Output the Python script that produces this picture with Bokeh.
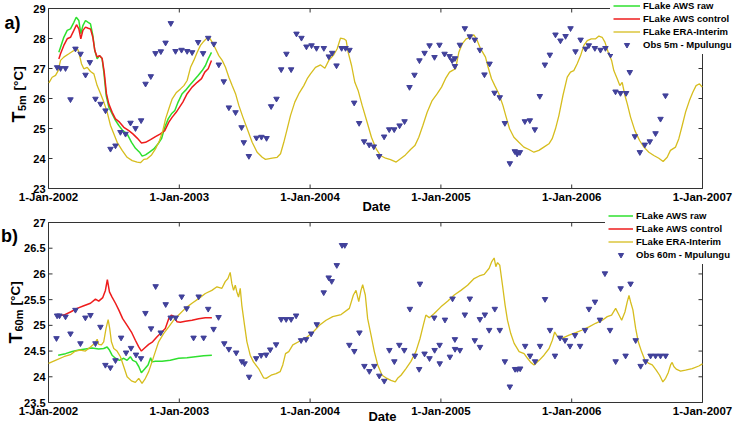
import numpy as np
from bokeh.plotting import figure
from bokeh.models import Label, Legend, LegendItem, Range1d
from bokeh.core.properties import value
from bokeh.embed import file_html
from bokeh.resources import INLINE

# ---------------------------------------------------------------- axes data
YEARS = [2002, 2003, 2004, 2005, 2006, 2007]
YEAR_LABELS = ["1-Jan-2002", "1-Jan-2003", "1-Jan-2004",
               "1-Jan-2005", "1-Jan-2006", "1-Jan-2007"]
T5_TICKS = [23, 24, 25, 26, 27, 28, 29]
T5_LABELS = ["23", "24", "25", "26", "27", "28", "29"]
T60_TICKS = [23.5, 24, 24.5, 25, 25.5, 26, 26.5, 27]
T60_LABELS = ["23.5", "24", "24.5", "25", "25.5", "26", "26.5", "27"]

SERIES_NAMES = ["FLake AWS raw", "FLake AWS control", "FLake ERA-Interim"]
OBS5_NAME = "Obs 5m - Mpulungu"
OBS60_NAME = "Obs 60m - Mpulungu"

# ------------------------------------------------- 5 m temperature (decimal year, degC)
raw5_t = [2002.079, 2002.092, 2002.117, 2002.143, 2002.168, 2002.194, 2002.212, 2002.232,
          2002.247, 2002.263, 2002.283, 2002.303, 2002.321, 2002.339, 2002.354, 2002.372,
          2002.390, 2002.410, 2002.423, 2002.441, 2002.461, 2002.487, 2002.512, 2002.538,
          2002.568, 2002.601, 2002.635, 2002.665, 2002.696, 2002.716, 2002.742, 2002.772,
          2002.805, 2002.838, 2002.864, 2002.889, 2002.915, 2002.940, 2002.966, 2002.991,
          2003.022, 2003.047, 2003.078, 2003.111, 2003.144, 2003.175, 2003.200, 2003.221,
          2003.246]
raw5_v = [27.54, 27.71, 28.04, 28.27, 28.32, 28.54, 28.71, 28.60,
          28.16, 28.43, 28.60, 28.54, 28.49, 28.10, 27.60, 27.32,
          27.43, 27.32, 26.88, 26.10, 25.71, 25.49, 25.27, 25.10,
          24.93, 24.82, 24.54, 24.34, 24.21, 24.08, 24.12, 24.21,
          24.32, 24.49, 24.66, 25.04, 25.32, 25.49, 25.60, 25.88,
          26.16, 26.27, 26.43, 26.60, 26.77, 26.93, 27.10, 27.32,
          27.54]

ctl5_t = [2002.079, 2002.092, 2002.117, 2002.143, 2002.168, 2002.194, 2002.214, 2002.232,
          2002.247, 2002.263, 2002.283, 2002.303, 2002.321, 2002.339, 2002.354, 2002.372,
          2002.390, 2002.410, 2002.426, 2002.443, 2002.461, 2002.487, 2002.512, 2002.543,
          2002.576, 2002.614, 2002.645, 2002.678, 2002.711, 2002.742, 2002.780, 2002.818,
          2002.856, 2002.889, 2002.920, 2002.946, 2002.976, 2003.002, 2003.027, 2003.060,
          2003.098, 2003.137, 2003.170, 2003.195, 2003.221, 2003.246]
ctl5_v = [27.32, 27.49, 27.77, 27.99, 28.04, 28.27, 28.46, 28.32,
          27.99, 28.27, 28.38, 28.34, 28.32, 28.04, 27.60, 27.38,
          27.43, 27.34, 26.88, 26.16, 25.82, 25.54, 25.32, 25.21,
          25.04, 24.93, 24.82, 24.68, 24.52, 24.54, 24.63, 24.73,
          24.82, 24.93, 25.21, 25.38, 25.54, 25.71, 25.88, 26.16,
          26.38, 26.54, 26.66, 26.88, 26.99, 27.27]

era5_t = [2002.003, 2002.028, 2002.054, 2002.074, 2002.092, 2002.117, 2002.156, 2002.194,
          2002.219, 2002.232, 2002.252, 2002.270, 2002.296, 2002.321, 2002.347, 2002.372,
          2002.398, 2002.423, 2002.449, 2002.474, 2002.500, 2002.525, 2002.563, 2002.601,
          2002.640, 2002.678, 2002.703, 2002.729, 2002.754, 2002.788, 2002.818, 2002.849,
          2002.874, 2002.895, 2002.920, 2002.946, 2002.976, 2003.009, 2003.035, 2003.060,
          2003.086, 2003.111, 2003.137, 2003.162, 2003.188, 2003.213, 2003.231, 2003.251,
          2003.277, 2003.302, 2003.328, 2003.353, 2003.379, 2003.404, 2003.430, 2003.455,
          2003.486, 2003.519, 2003.557, 2003.595, 2003.634, 2003.659, 2003.710, 2003.748,
          2003.774, 2003.799, 2003.825, 2003.850, 2003.883, 2003.914, 2003.952, 2003.978,
          2004.003, 2004.041, 2004.080, 2004.113, 2004.143, 2004.181, 2004.207, 2004.232,
          2004.258, 2004.276, 2004.291, 2004.317, 2004.342, 2004.367, 2004.398, 2004.436,
          2004.469, 2004.505, 2004.538, 2004.577, 2004.615, 2004.658, 2004.691, 2004.729,
          2004.768, 2004.801, 2004.831, 2004.862, 2004.895, 2004.933, 2004.972, 2005.005,
          2005.035, 2005.066, 2005.086, 2005.112, 2005.137, 2005.163, 2005.193, 2005.226,
          2005.252, 2005.272, 2005.303, 2005.341, 2005.361, 2005.387, 2005.412, 2005.443,
          2005.474, 2005.499, 2005.525, 2005.558, 2005.596, 2005.634, 2005.673, 2005.711,
          2005.749, 2005.787, 2005.826, 2005.851, 2005.876, 2005.902, 2005.933, 2005.966,
          2005.991, 2006.016, 2006.042, 2006.068, 2006.093, 2006.119, 2006.150, 2006.183,
          2006.208, 2006.233, 2006.254, 2006.279, 2006.305, 2006.322, 2006.348, 2006.368,
          2006.386, 2006.407, 2006.425, 2006.450, 2006.483, 2006.519, 2006.552, 2006.590,
          2006.628, 2006.666, 2006.699, 2006.730, 2006.755, 2006.794, 2006.819, 2006.845,
          2006.870, 2006.900, 2006.926, 2006.951, 2006.977, 2006.998]
era5_v = [26.52, 26.71, 26.77, 26.93, 27.27, 27.38, 27.49, 27.60,
          27.68, 27.54, 27.16, 26.99, 27.04, 26.90, 26.82, 26.43,
          26.16, 25.88, 25.54, 25.10, 24.82, 24.54, 24.27, 24.04,
          23.93, 23.88, 23.86, 23.97, 23.99, 24.12, 24.32, 24.60,
          24.93, 25.32, 25.66, 25.99, 26.19, 26.32, 26.43, 26.60,
          27.04, 27.27, 27.54, 27.77, 27.91, 28.02, 28.02, 27.88,
          27.66, 27.43, 27.27, 27.04, 26.71, 26.43, 26.16, 25.77,
          25.38, 24.99, 24.54, 24.21, 24.04, 23.97, 24.01, 24.04,
          24.16, 24.54, 24.99, 25.43, 25.88, 26.16, 26.43, 26.66,
          26.82, 27.04, 27.12, 27.01, 27.27, 27.46, 27.66, 28.01,
          27.99, 27.93, 27.54, 27.10, 26.54, 26.27, 25.77, 25.21,
          24.71, 24.32, 24.10, 24.01, 23.96, 23.88, 23.99, 24.12,
          24.30, 24.43, 24.71, 25.10, 25.54, 25.93, 26.16, 26.38,
          26.66, 26.88, 26.93, 26.99, 27.54, 27.82, 27.99, 28.04,
          28.12, 27.99, 27.66, 27.38, 27.04, 26.66, 26.43, 26.16,
          25.77, 25.38, 24.99, 24.71, 24.54, 24.38, 24.30, 24.21,
          24.27, 24.38, 24.49, 24.66, 24.99, 25.43, 26.10, 26.71,
          26.88, 26.93, 27.16, 27.43, 27.77, 27.93, 27.99, 27.99,
          28.08, 28.04, 27.88, 27.54, 27.27, 26.93, 26.66, 26.43,
          26.54, 26.10, 25.82, 25.38, 24.93, 24.60, 24.38, 24.21,
          24.10, 24.01, 23.90, 24.04, 24.27, 24.38, 24.66, 25.10,
          25.54, 25.93, 26.21, 26.43, 26.49, 26.38]

obs5_t = [2002.066, 2002.092, 2002.130, 2002.168, 2002.206, 2002.245, 2002.283, 2002.316,
          2002.359, 2002.398, 2002.436, 2002.474, 2002.512, 2002.550, 2002.589, 2002.627,
          2002.665, 2002.708, 2002.742, 2002.782, 2002.818, 2002.859, 2002.895, 2002.935,
          2002.971, 2003.017, 2003.060, 2003.098, 2003.144, 2003.182, 2003.221, 2003.264,
          2003.302, 2003.340, 2003.379, 2003.430, 2003.476, 2003.493, 2003.532, 2003.590,
          2003.628, 2003.667, 2003.702, 2003.743, 2003.779, 2003.819, 2003.855, 2003.896,
          2003.934, 2003.972, 2004.011, 2004.049, 2004.105, 2004.143, 2004.169, 2004.202,
          2004.241, 2004.271, 2004.301, 2004.337, 2004.375, 2004.413, 2004.452, 2004.487,
          2004.528, 2004.566, 2004.605, 2004.643, 2004.684, 2004.722, 2004.760, 2004.798,
          2004.836, 2004.875, 2004.913, 2004.951, 2004.989, 2005.028, 2005.066, 2005.086,
          2005.107, 2005.107, 2005.145, 2005.183, 2005.221, 2005.259, 2005.298, 2005.333,
          2005.372, 2005.410, 2005.450, 2005.489, 2005.527, 2005.565, 2005.583, 2005.604,
          2005.642, 2005.680, 2005.718, 2005.756, 2005.795, 2005.833, 2005.876, 2005.914,
          2005.953, 2005.991, 2006.029, 2006.068, 2006.106, 2006.131, 2006.177, 2006.220,
          2006.258, 2006.297, 2006.335, 2006.373, 2006.416, 2006.444, 2006.483, 2006.521,
          2006.559, 2006.597, 2006.641, 2006.679, 2006.717]
obs5_v = [27.04, 27.01, 27.01, 25.97, 27.66, 27.49, 26.79, 27.21,
          25.99, 25.82, 25.60, 24.32, 24.43, 24.88, 24.82, 25.19,
          25.01, 25.27, 26.49, 26.74, 27.51, 27.57, 27.86, 28.51,
          27.58, 27.62, 27.58, 27.54, 27.88, 27.51, 28.02, 27.82,
          27.13, 26.57, 25.70, 25.54, 25.04, 24.54, 24.08, 24.69,
          24.72, 24.68, 25.74, 25.99, 26.97, 27.49, 26.97, 28.16,
          28.02, 27.73, 27.77, 27.68, 27.68, 27.40, 27.52, 27.10,
          27.68, 27.68, 27.62, 25.86, 25.18, 24.57, 24.46, 24.40,
          24.08, 24.73, 24.97, 24.97, 25.10, 25.24, 26.38, 26.79,
          27.27, 27.52, 27.77, 27.38, 27.79, 27.49, 27.41, 27.27,
          27.34, 27.08, 27.79, 28.34, 28.07, 27.96, 27.62, 26.80,
          27.16, 26.19, 26.04, 25.18, 23.84, 24.24, 24.16, 24.21,
          25.24, 25.27, 24.97, 26.08, 27.13, 27.46, 28.13, 27.93,
          28.08, 28.34, 27.57, 27.96, 27.66, 27.77, 27.68, 27.62,
          27.68, 27.46, 26.23, 26.18, 26.18, 26.88, 24.74, 24.21,
          24.46, 24.57, 24.84, 25.32, 26.10]

# ------------------------------------------------ 60 m temperature (decimal year, degC)
raw60_t = [2002.074, 2002.130, 2002.181, 2002.232, 2002.282, 2002.333, 2002.384, 2002.422,
           2002.448, 2002.466, 2002.486, 2002.512, 2002.542, 2002.575, 2002.601, 2002.626,
           2002.644, 2002.669, 2002.690, 2002.710, 2002.735, 2002.761, 2002.781, 2002.791,
           2002.817, 2002.868, 2002.931, 2002.995, 2003.059, 2003.122, 2003.186, 2003.249]
raw60_v = [24.42, 24.45, 24.49, 24.52, 24.54, 24.56, 24.54, 24.55,
           24.58, 24.52, 24.42, 24.36, 24.32, 24.36, 24.32, 24.39,
           24.32, 24.29, 24.20, 24.08, 24.15, 24.23, 24.37, 24.29,
           24.30, 24.30, 24.32, 24.36, 24.37, 24.39, 24.41, 24.42]

ctl60_t = [2002.066, 2002.117, 2002.168, 2002.219, 2002.270, 2002.321, 2002.359, 2002.384,
           2002.415, 2002.435, 2002.450, 2002.466, 2002.486, 2002.512, 2002.537, 2002.567,
           2002.601, 2002.634, 2002.664, 2002.690, 2002.710, 2002.735, 2002.766, 2002.796,
           2002.830, 2002.863, 2002.893, 2002.919, 2002.939, 2002.964, 2002.982, 2003.008,
           2003.046, 2003.097, 2003.148, 2003.199, 2003.249]
ctl60_v = [25.19, 25.20, 25.26, 25.33, 25.38, 25.43, 25.51, 25.47,
           25.54, 25.68, 25.89, 25.65, 25.55, 25.43, 25.30, 25.13,
           25.00, 24.87, 24.71, 24.58, 24.50, 24.56, 24.63, 24.68,
           24.78, 24.86, 24.94, 25.13, 25.20, 25.17, 25.07, 25.06,
           25.08, 25.10, 25.13, 25.15, 25.15]

era60_t = [2002.000, 2002.053, 2002.117, 2002.168, 2002.206, 2002.244, 2002.282, 2002.321,
           2002.354, 2002.372, 2002.384, 2002.405, 2002.422, 2002.440, 2002.456, 2002.468,
           2002.481, 2002.499, 2002.524, 2002.550, 2002.575, 2002.601, 2002.634, 2002.664,
           2002.690, 2002.715, 2002.741, 2002.766, 2002.791, 2002.817, 2002.842, 2002.880,
           2002.919, 2002.957, 2002.995, 2003.046, 2003.097, 2003.148, 2003.199, 2003.249,
           2003.288, 2003.326, 2003.351, 2003.372, 2003.389, 2003.402, 2003.415, 2003.428,
           2003.440, 2003.453, 2003.466, 2003.478, 2003.499, 2003.517, 2003.542, 2003.567,
           2003.606, 2003.644, 2003.664, 2003.702, 2003.740, 2003.771, 2003.791, 2003.812,
           2003.837, 2003.868, 2003.919, 2003.969, 2004.020, 2004.071, 2004.122, 2004.173,
           2004.237, 2004.300, 2004.331, 2004.351, 2004.372, 2004.389, 2004.402, 2004.422,
           2004.440, 2004.466, 2004.491, 2004.517, 2004.550, 2004.580, 2004.618, 2004.651,
           2004.669, 2004.695, 2004.733, 2004.771, 2004.809, 2004.840, 2004.865, 2004.885,
           2004.911, 2004.949, 2005.000, 2005.051, 2005.102, 2005.153, 2005.204, 2005.254,
           2005.293, 2005.331, 2005.369, 2005.389, 2005.407, 2005.420, 2005.433, 2005.450,
           2005.471, 2005.491, 2005.509, 2005.534, 2005.560, 2005.598, 2005.636, 2005.662,
           2005.687, 2005.712, 2005.751, 2005.788, 2005.827, 2005.852, 2005.870, 2005.891,
           2005.929, 2005.980, 2006.031, 2006.081, 2006.132, 2006.183, 2006.234, 2006.272,
           2006.305, 2006.336, 2006.356, 2006.382, 2006.407, 2006.425, 2006.438, 2006.450,
           2006.468, 2006.489, 2006.509, 2006.534, 2006.560, 2006.590, 2006.616, 2006.646,
           2006.672, 2006.697, 2006.718, 2006.738, 2006.756, 2006.768, 2006.781, 2006.799,
           2006.832, 2006.870, 2006.921, 2006.972, 2007.000]
era60_v = [24.26, 24.32, 24.39, 24.43, 24.50, 24.52, 24.50, 24.58,
           24.65, 24.73, 24.63, 24.62, 24.68, 24.94, 25.11, 24.94,
           24.68, 24.55, 24.50, 24.39, 24.20, 24.00, 23.92, 23.89,
           23.97, 23.87, 23.97, 24.10, 24.29, 24.49, 24.68, 24.84,
           24.97, 25.10, 25.20, 25.33, 25.43, 25.52, 25.62, 25.68,
           25.75, 25.72, 25.85, 25.91, 26.03, 25.81, 25.68, 25.78,
           25.65, 25.55, 25.72, 25.39, 25.00, 24.68, 24.42, 24.29,
           24.16, 23.98, 23.97, 24.03, 24.06, 24.10, 24.23, 24.45,
           24.49, 24.62, 24.69, 24.76, 24.86, 25.00, 25.10, 25.17,
           25.21, 25.33, 25.59, 25.68, 25.46, 25.68, 25.79, 25.59,
           25.13, 24.81, 24.49, 24.23, 24.03, 23.98, 23.93, 23.90,
           23.97, 24.03, 24.16, 24.30, 24.49, 24.74, 25.00, 25.20,
           25.15, 25.23, 25.36, 25.47, 25.59, 25.68, 25.78, 25.91,
           25.96, 25.99, 26.11, 26.24, 26.31, 26.14, 26.22, 26.17,
           25.78, 25.39, 25.10, 24.84, 24.65, 24.49, 24.45, 24.36,
           24.28, 24.23, 24.32, 24.42, 24.55, 24.71, 24.87, 24.78,
           24.75, 24.81, 24.86, 24.91, 24.97, 25.04, 25.10, 25.17,
           25.20, 25.33, 25.23, 25.10, 25.26, 25.46, 25.58, 25.46,
           25.30, 24.94, 24.68, 24.49, 24.32, 24.26, 24.23, 24.13,
           24.03, 23.90, 23.97, 24.08, 24.23, 24.28, 24.20, 24.15,
           24.11, 24.13, 24.16, 24.21, 24.25]

obs60_t = [2002.061, 2002.066, 2002.084, 2002.130, 2002.168, 2002.206, 2002.244, 2002.282,
           2002.321, 2002.359, 2002.397, 2002.435, 2002.473, 2002.512, 2002.555, 2002.593,
           2002.631, 2002.669, 2002.707, 2002.741, 2002.784, 2002.819, 2002.858, 2002.896,
           2002.934, 2002.972, 2003.018, 2003.056, 2003.109, 2003.148, 2003.186, 2003.221,
           2003.262, 2003.300, 2003.344, 2003.379, 2003.435, 2003.478, 2003.499, 2003.534,
           2003.588, 2003.626, 2003.664, 2003.695, 2003.740, 2003.779, 2003.817, 2003.855,
           2003.893, 2003.931, 2003.969, 2004.008, 2004.051, 2004.104, 2004.142, 2004.165,
           2004.204, 2004.244, 2004.265, 2004.300, 2004.338, 2004.377, 2004.415, 2004.453,
           2004.491, 2004.529, 2004.567, 2004.606, 2004.644, 2004.682, 2004.720, 2004.763,
           2004.801, 2004.834, 2004.840, 2004.875, 2004.913, 2004.949, 2004.952, 2004.990,
           2004.991, 2005.031, 2005.069, 2005.089, 2005.107, 2005.108, 2005.145, 2005.183,
           2005.221, 2005.259, 2005.298, 2005.299, 2005.336, 2005.369, 2005.412, 2005.450,
           2005.489, 2005.527, 2005.567, 2005.585, 2005.606, 2005.644, 2005.682, 2005.720,
           2005.758, 2005.796, 2005.834, 2005.872, 2005.911, 2005.949, 2005.987, 2006.025,
           2006.064, 2006.102, 2006.132, 2006.178, 2006.216, 2006.254, 2006.293, 2006.336,
           2006.374, 2006.412, 2006.450, 2006.489, 2006.527, 2006.565, 2006.603, 2006.641,
           2006.679, 2006.718]
obs60_v = [24.75, 25.19, 25.19, 25.17, 24.84, 25.30, 24.65, 25.15,
           25.20, 24.65, 24.97, 24.23, 24.18, 24.32, 24.76, 24.47,
           24.56, 24.43, 24.36, 25.24, 24.94, 25.76, 24.86, 25.41,
           25.15, 25.15, 25.56, 25.33, 24.76, 25.56, 24.76, 25.32,
           24.93, 25.16, 24.65, 24.54, 24.47, 24.30, 24.26, 24.00,
           24.36, 24.42, 24.43, 24.53, 24.63, 25.12, 25.12, 25.12,
           25.19, 24.71, 24.73, 24.84, 25.02, 25.64, 25.93, 25.86,
           26.17, 26.56, 26.56, 24.62, 24.50, 24.86, 24.21, 24.11,
           24.21, 24.02, 23.92, 24.52, 24.30, 24.62, 24.52, 25.32,
           24.41, 24.15, 25.81, 24.45, 24.36, 25.15, 24.52, 24.62,
           24.26, 25.11, 24.39, 25.52, 24.73, 24.54, 24.52, 25.21,
           25.52, 24.71, 25.12, 24.58, 25.21, 24.91, 25.32, 24.91,
           24.30, 23.81, 24.15, 24.15, 24.16, 24.60, 24.41, 24.30,
           24.60, 25.51, 24.91, 24.41, 24.76, 24.71, 24.60, 24.81,
           24.60, 24.91, 25.32, 25.46, 25.11, 26.01, 24.91, 24.30,
           25.72, 24.41, 25.81, 24.71, 24.21, 24.30, 24.41, 24.41,
           24.41, 24.41]

# ---------------------------------------------------------------- page geometry
W, H = 733, 424
X_LEFT, X_RIGHT = 48, 702          # pixel columns of the first and last year
PANEL_A = (8, 188)                 # pixel rows of the top and bottom of panel a)
PANEL_B = (222, 402)               # pixel rows of the top and bottom of panel b)

FONT = "Liberation Sans"
GREEN = "#2fe02f"
RED = "#ee1c1c"
GOLD = "#d6bd1e"
NAVY = "#41419a"
FRAME = "#333333"


def span_range(p0, p1, v0, v1, total):
    """Range whose values v0, v1 land on pixels p0, p1 of a canvas of `total` px."""
    k = (v1 - v0) / (p1 - p0)
    return Range1d(v0 - p0 * k, v1 + (total - p1) * k)


x_range = span_range(X_LEFT, X_RIGHT, YEARS[0], YEARS[-1], W)
# vertical pixels counted from the bottom of the canvas
ya = span_range(H - PANEL_A[1], H - PANEL_A[0], T5_TICKS[0], T5_TICKS[-1], H)
yb = span_range(H - PANEL_B[1], H - PANEL_B[0], T60_TICKS[0], T60_TICKS[-1], H)

p = figure(width=W, height=H, output_backend="svg", toolbar_location=None,
           x_range=x_range, y_range=ya, x_axis_location=None, y_axis_location=None,
           min_border_left=0, min_border_right=0, min_border_top=0, min_border_bottom=0)
p.extra_y_ranges = {"b": yb}
p.grid.visible = False
p.outline_line_color = None
p.background_fill_color = "white"
p.border_fill_color = "white"


def glyph_text_kw(size):
    return dict(text_font=value(FONT), text_font_style="bold", text_font_size=size,
                text_color="black")


def draw_frame(ticks, labels, rng):
    lo, hi = ticks[0], ticks[-1]
    x0, x1 = YEARS[0], YEARS[-1]
    p.quad(left=x0, right=x1, bottom=lo, top=hi, fill_alpha=0,
           line_color=FRAME, line_width=1, y_range_name=rng)
    n, m = len(YEARS), len(ticks)
    tick = dict(length=4, length_units="screen", line_color=FRAME, line_width=1,
                y_range_name=rng)
    p.ray(x=YEARS, y=[lo] * n, angle=np.pi / 2, **tick)
    p.ray(x=YEARS, y=[hi] * n, angle=-np.pi / 2, **tick)
    p.ray(x=[x0] * m, y=ticks, angle=0, **tick)
    p.ray(x=[x1] * m, y=ticks, angle=np.pi, **tick)
    p.text(x=YEARS, y=[lo] * n, text=YEAR_LABELS, y_offset=2, text_align="center",
           text_baseline="top", y_range_name=rng, **glyph_text_kw("11.5px"))
    p.text(x=[x0] * m, y=ticks, text=labels, x_offset=-3, text_align="right",
           text_baseline="middle", y_range_name=rng, **glyph_text_kw("11px"))


def draw_series(raw, ctl, era, obs, rng):
    r_raw = p.line(raw[0], raw[1], line_color=GREEN, line_width=1.5, y_range_name=rng)
    r_ctl = p.line(ctl[0], ctl[1], line_color=RED, line_width=1.5, y_range_name=rng)
    r_era = p.line(era[0], era[1], line_color=GOLD, line_width=1.3, y_range_name=rng)
    r_obs = p.scatter(obs[0], obs[1], marker="inverted_triangle", size=5.5,
                      fill_color=NAVY, line_color=NAVY, y_range_name=rng)
    return [r_raw, r_ctl, r_era, r_obs]


def add_legend(renderers, obs_name, left, bottom, glyph_w):
    names = SERIES_NAMES + [obs_name]
    legend = Legend(items=[LegendItem(label=n, renderers=[r]) for n, r in zip(names, renderers)],
                    location=(left, bottom))
    legend.background_fill_color = "white"
    legend.background_fill_alpha = 1.0
    legend.border_line_alpha = 0
    legend.label_text_font = FONT
    legend.label_text_font_style = "bold"
    legend.label_text_font_size = "9.5px"
    legend.label_text_color = "black"
    legend.glyph_width = glyph_w
    legend.glyph_height = 13
    legend.label_height = 13
    legend.spacing = 0
    legend.padding = 3
    legend.margin = 0
    legend.label_standoff = 3
    p.add_layout(legend)


def canvas_label(cx, cy, text, size, angle=0.0, align="left", baseline="alphabetic"):
    p.add_layout(Label(x=cx, y=H - cy, x_units="screen", y_units="screen", text=text,
                       angle=angle, text_align=align, text_baseline=baseline,
                       text_font=FONT, text_font_style="bold", text_font_size=size,
                       text_color="black"))


def y_title(x_t, x_sub, x_unit, y_start, y_sub, y_unit, sub):
    # "T" with a subscripted depth, then the unit, reading bottom to top
    canvas_label(x_t, y_start, "T", "18px", angle=np.pi / 2)
    canvas_label(x_sub, y_sub, sub, "11px", angle=np.pi / 2)
    canvas_label(x_unit, y_unit, "[°C]", "13.5px", angle=np.pi / 2)


# ---- panel a) : 5 m
draw_frame(T5_TICKS, T5_LABELS, "default")
rend_a = draw_series((raw5_t, raw5_v), (ctl5_t, ctl5_v), (era5_t, era5_v),
                     (obs5_t, obs5_v), "default")
# ---- panel b) : 60 m
draw_frame(T60_TICKS, T60_LABELS, "b")
rend_b = draw_series((raw60_t, raw60_v), (ctl60_t, ctl60_v), (era60_t, era60_v),
                     (obs60_t, obs60_v), "b")

add_legend(rend_a, OBS5_NAME, 610, 370, 27)
add_legend(rend_b, OBS60_NAME, 605, 160, 25)

canvas_label(12, 22, "a)", "18px", align="center", baseline="middle")
canvas_label(9, 235, "b)", "18px", align="center", baseline="middle")
y_title(18.5, 21, 17.5, 122, 110.5, 90, "5m")
y_title(15.5, 18.5, 14.5, 343, 331, 305, "60m")
canvas_label(376, 206, "Date", "13px", align="center", baseline="middle")
canvas_label(382, 416, "Date", "13px", align="center", baseline="middle")

open("out.html", "w").write(file_html(p, INLINE))
